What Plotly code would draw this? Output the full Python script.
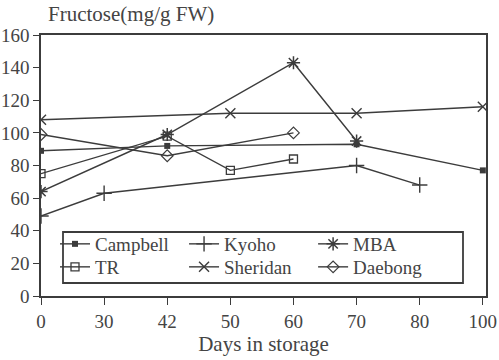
import plotly.graph_objects as go

# Storage days (evenly spaced categories on the x axis)
days = ["0", "30", "42", "50", "60", "70", "80", "100"]

# Fructose content (mg/g FW) per cultivar; None = not measured
campbell = [89, None, 92, None, None, 93, None, 77]
kyoho = [49, 63, None, None, None, 80, 68, None]
mba = [64, None, 99, None, 143, 95, None, None]
tr = [75, None, 98, 77, 84, None, None, None]
sheridan = [108, None, None, 112, None, 112, None, 116]
daebong = [99, None, 86, None, 100, None, None, None]

y_ticks = [0, 20, 40, 60, 80, 100, 120, 140, 160]

INK = "#3c3c3c"
TEXT = "#444"
FONT = "'Liberation Serif', 'DejaVu Serif', serif"

# (name, values, marker, legend row)
series = [
    ("Campbell", campbell, dict(symbol="square", size=6, color=INK), "legend"),
    ("Kyoho", kyoho, dict(symbol="cross-thin", size=11, color=INK, line=dict(color=INK, width=1.4)), "legend"),
    ("MBA", mba, dict(symbol="asterisk", size=11, color=INK, line=dict(color=INK, width=1.5)), "legend"),
    ("TR", tr, dict(symbol="square-open", size=8, color=INK, line=dict(color=INK, width=1.3)), "legend2"),
    ("Sheridan", sheridan, dict(symbol="x-thin", size=10, color=INK, line=dict(color=INK, width=1.4)), "legend2"),
    ("Daebong", daebong, dict(symbol="diamond-open", size=9, color=INK, line=dict(color=INK, width=1.2)), "legend2"),
]

fig = go.Figure()
for name, vals, marker, leg in series:
    fig.add_trace(go.Scatter(
        x=days, y=vals, name=name, mode="lines+markers",
        connectgaps=True, legend=leg,
        line=dict(color=INK, width=1.4),
        marker=marker,
    ))

# Plot area in pixels: x 41..486, y 35..296
PW, PH = 445, 261


def legend_row(y_px):
    return dict(
        orientation="h",
        x=(55 - 41) / PW, y=(296 - y_px) / PH, xanchor="left", yanchor="middle",
        entrywidthmode="fraction", entrywidth=0.29,
        borderwidth=0, bgcolor="rgba(0,0,0,0)",
        font=dict(family=FONT, size=19, color=TEXT),
        itemwidth=30, tracegroupgap=0,
    )


fig.update_layout(
    width=499, height=360,
    margin=dict(l=41, r=13, t=35, b=64),
    paper_bgcolor="white", plot_bgcolor="white",
    font=dict(family=FONT, size=19, color=TEXT),
    showlegend=True,
    legend=legend_row(244),
    legend2=legend_row(267),
    xaxis=dict(
        type="category", categoryorder="array", categoryarray=days,
        range=[0, 7.05], automargin=False,
        showline=True, linecolor=INK, linewidth=1.5, mirror=True,
        ticks="outside", ticklen=7, tickcolor=INK, tickwidth=1.3,
        showgrid=False, zeroline=False,
        tickfont=dict(family=FONT, size=19, color=TEXT),
        title=dict(text="Days in storage", standoff=6,
                   font=dict(family=FONT, size=21, color=TEXT)),
    ),
    yaxis=dict(
        range=[0, 160], tickvals=y_ticks, automargin=False,
        showline=True, linecolor=INK, linewidth=1.5, mirror=True,
        ticks="outside", ticklen=6, tickcolor=INK, tickwidth=1.3,
        showgrid=False, zeroline=False,
        tickfont=dict(family=FONT, size=19, color=TEXT),
    ),
    shapes=[dict(
        type="rect", xref="paper", yref="paper",
        x0=(63 - 41) / PW, x1=(463 - 41) / PW,
        y0=(296 - 283) / PH, y1=(296 - 232) / PH,
        line=dict(color=INK, width=1.8), fillcolor="white", layer="below",
    )],
    annotations=[dict(
        text="Fructose(mg/g FW)", xref="paper", yref="paper",
        x=0.012, y=1.0 + 21 / PH, xanchor="left", yanchor="middle",
        showarrow=False, font=dict(family=FONT, size=21, color=TEXT),
    )],
)

fig.write_html("out.html")
